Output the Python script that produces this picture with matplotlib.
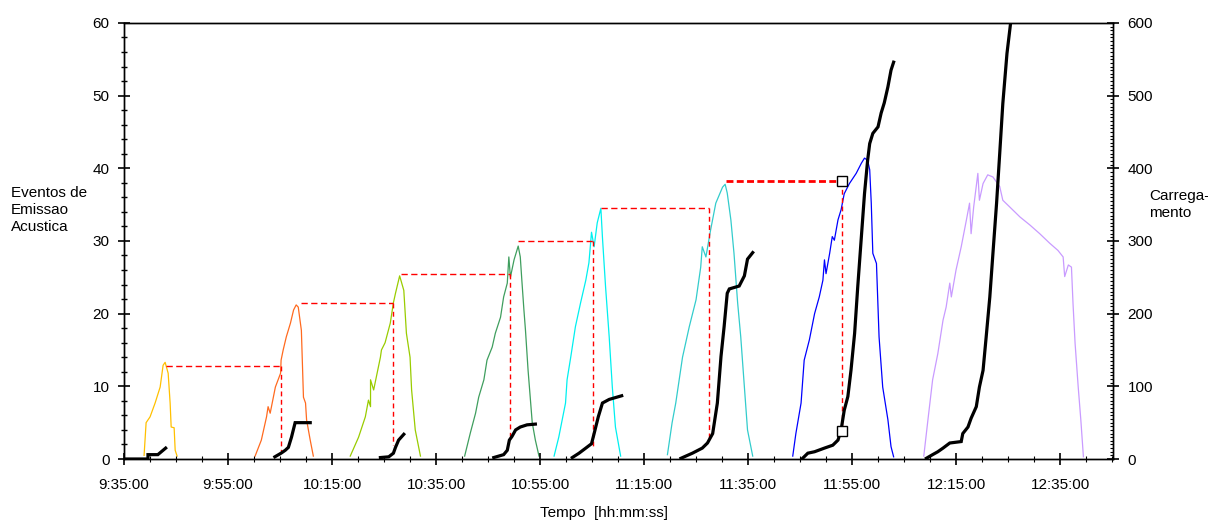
import numpy as np
import pandas as pd
import matplotlib
matplotlib.use("Agg")
import matplotlib.pyplot as plt
import matplotlib.dates as mdates
from matplotlib.ticker import MultipleLocator, FuncFormatter

plt.rcParams["font.family"] = ["Liberation Sans", "DejaVu Sans"]
plt.rcParams["font.size"] = 11

# time in minutes after 9:35:00
START = pd.Timestamp("2000-01-01 09:35:00")

# ── load cycles (Carregamento, right axis) ──────────────────────
load_t1 = [3.85, 4.24, 5.0, 5.97, 6.94, 7.51, 7.9, 8.48, 8.86, 9.06, 9.63, 9.83, 10.2]
load_v1 = [5, 50, 58, 77, 99, 129, 133, 118, 77, 44, 43, 12, 4]

load_t2 = [25.2, 26.4, 27.4, 27.7, 28.1, 29.1, 30.1, 30.2, 30.6, 31.2, 32.0, 32.6, 33.1,
           33.5, 34.1, 34.5, 34.9, 35.1, 35.8, 36.4]
load_v2 = [4, 26, 58, 72, 63, 99, 118, 136, 150, 168, 187, 205, 212, 209, 177, 85, 77, 54, 26, 4]

load_t3 = [43.5, 45.1, 46.4, 47.0, 47.4, 47.4, 48.0, 49.3, 49.5, 50.2, 51.2, 51.8, 52.2,
           53.0, 53.8, 54.3, 55.0, 55.3, 56.0, 57.0]
load_v3 = [4, 30, 58, 81, 72, 109, 95, 140, 150, 160, 187, 215, 228, 252, 232, 173, 140, 95, 40, 4]

load_t4 = [65.5, 66.6, 67.6, 68.2, 69.2, 69.8, 70.8, 71.4, 72.4, 73.0, 73.7, 74.0, 74.3,
           75.0, 75.8, 76.2, 76.5, 76.9, 77.2, 77.7, 78.2, 78.5, 79.1, 79.8]
load_v4 = [4, 36, 63, 85, 109, 136, 154, 173, 195, 223, 242, 278, 250, 274, 293, 278, 246,
           205, 177, 122, 77, 50, 26, 4]

load_t5 = [82.7, 83.6, 84.9, 85.2, 85.9, 86.8, 87.8, 88.8, 89.4, 89.9, 90.4, 91.0, 91.7,
           92.0, 92.6, 93.3, 93.9, 94.5, 95.5]
load_v5 = [4, 30, 77, 109, 140, 182, 215, 246, 270, 312, 292, 325, 345, 305, 237, 168, 99, 44, 4]

load_t6 = [104.5, 105.4, 106.1, 107.4, 108.7, 110.0, 110.9, 111.2, 111.9, 112.8, 113.8,
           115.1, 115.6, 116.0, 116.7, 117.3, 118.0, 118.6, 119.3, 119.9, 120.9]
load_v6 = [6, 50, 77, 140, 182, 219, 264, 292, 278, 315, 352, 374, 378, 366, 329, 283, 215,
           168, 99, 40, 4]

load_t7 = [128.6, 129.2, 130.2, 130.8, 131.8, 132.8, 133.7, 134.4, 134.7, 135.0, 135.7,
           136.2, 136.6, 137.3, 137.9, 138.5, 139.5, 140.8, 141.8, 142.4, 143.0, 143.4,
           143.7, 144.0, 144.7, 145.2, 145.9, 146.9, 147.5, 148.0]
load_v7 = [4, 35, 77, 136, 164, 200, 223, 246, 274, 255, 283, 306, 301, 329, 343, 365, 379,
           393, 407, 414, 411, 398, 352, 283, 269, 168, 99, 54, 17, 3]

load_t8 = [153.8, 154.6, 155.5, 156.5, 157.5, 158.1, 158.8, 159.1, 160.0, 161.0, 162.0,
           162.6, 162.9, 163.4, 164.2, 164.5, 165.2, 166.1, 167.1, 168.4, 169.0, 170.3,
           172.3, 174.2, 176.1, 178.0, 179.6, 180.6, 180.9, 181.6, 182.2, 182.5, 182.9,
           183.5, 184.0, 184.5]
load_v8 = [4, 54, 109, 145, 191, 209, 242, 223, 260, 292, 329, 352, 310, 347, 393, 356, 379,
           391, 388, 375, 356, 347, 333, 322, 310, 297, 287, 278, 251, 267, 264, 214, 159,
           99, 54, 3]

load_colors = ["#FFC000", "#FF6A1F", "#99CC00", "#3F9E5E",
               "#00F0F0", "#33CCCC", "#0000FF", "#C99BFF"]

# ── cumulative acoustic emission events (left axis) ─────────────
ae_t1 = [0, 4.6, 4.6, 6.5, 7.0, 7.5, 8.0]
ae_v1 = [0, 0, 0.6, 0.6, 0.9, 1.2, 1.5]

ae_t2 = [29.0, 30.2, 31.0, 31.6, 32.2, 32.9, 35.8]
ae_v2 = [0.3, 0.8, 1.2, 1.6, 3.0, 5.0, 5.0]

ae_t3 = [49.3, 50.9, 51.8, 52.2, 52.8, 53.3, 53.8]
ae_v3 = [0.2, 0.3, 0.8, 1.6, 2.6, 3.0, 3.4]

ae_t4 = [71.1, 73.0, 73.7, 74.1, 74.6, 75.3, 76.2, 77.5, 79.1]
ae_v4 = [0.2, 0.6, 1.2, 2.6, 3.1, 4.0, 4.4, 4.7, 4.8]

ae_t5 = [86.2, 87.5, 88.8, 89.9, 90.4, 91.2, 92.0, 93.3, 95.7]
ae_v5 = [0.2, 0.8, 1.5, 2.1, 3.5, 5.8, 7.7, 8.2, 8.7]

ae_t6 = [107.1, 109.3, 111.2, 112.2, 113.2, 114.1, 114.8, 115.4, 116.0, 116.4, 118.3,
         119.3, 119.9, 120.9]
ae_v6 = [0.1, 0.8, 1.5, 2.2, 3.5, 7.7, 14.1, 18.2, 22.8, 23.4, 23.8, 25.2, 27.5, 28.4]

ae_t7 = [130.5, 131.5, 132.8, 134.7, 136.3, 137.3, 137.9, 138.5, 139.2, 139.8, 140.5,
         141.1, 141.8, 142.4, 143.0, 143.4, 144.0, 145.0, 145.6, 146.2, 146.9, 147.5, 148.0]
ae_v7 = [0.1, 0.8, 1.0, 1.5, 1.9, 2.6, 4.0, 6.7, 8.6, 12.2, 17.3, 23.7, 30.6, 36.5, 41.1,
         43.4, 44.8, 45.7, 47.6, 49.0, 51.2, 53.5, 54.6]

ae_t8 = [154.3, 155.5, 156.5, 157.5, 158.8, 161.0, 161.3, 162.3, 162.9, 163.9, 164.5,
         165.2, 165.8, 166.5, 167.1, 167.8, 168.4, 169.0, 169.8, 170.5, 170.7]
ae_v8 = [0.1, 0.6, 1.0, 1.5, 2.2, 2.4, 3.5, 4.4, 5.6, 7.2, 9.9, 12.2, 16.8, 22.3, 28.3,
         35.2, 42.0, 48.9, 55.8, 60.0, 61.5]

# ── Felicity lines: previous peak load → onset of emission ─────
fel_start = [8.1, 34.0, 53.2, 75.7, 91.7, 115.7]
fel_end = [30.25, 51.7, 74.2, 90.1, 112.5, 138.0]
fel_level = [128, 214, 254, 300, 346, 382]
fel_bottom = [11, 19, 31, 18, 28, 39]

# marked points on the last cycle (upper: load, lower: events)
mark_t = 138.0
mark_load = 382
mark_ae = 3.9


def to_time(minutes):
    return START + pd.to_timedelta(np.asarray(minutes, dtype=float), unit="min")


loads = [(load_t1, load_v1), (load_t2, load_v2), (load_t3, load_v3), (load_t4, load_v4),
         (load_t5, load_v5), (load_t6, load_v6), (load_t7, load_v7), (load_t8, load_v8)]
events = [(ae_t1, ae_v1), (ae_t2, ae_v2), (ae_t3, ae_v3), (ae_t4, ae_v4),
          (ae_t5, ae_v5), (ae_t6, ae_v6), (ae_t7, ae_v7), (ae_t8, ae_v8)]

fig = plt.figure(figsize=(12.08, 5.21), dpi=100)
ax = fig.add_axes([0.1027, 0.119, 0.8187, 0.837])
ax2 = ax.twinx()
ax.set_zorder(ax2.get_zorder() + 1)
ax.patch.set_visible(False)

for (t, v), c in zip(loads, load_colors):
    ax2.plot(to_time(t), v, color=c, lw=0.9)

for i in range(len(fel_start)):
    last = i == len(fel_start) - 1
    ax2.plot(to_time([fel_start[i], fel_end[i]]), [fel_level[i], fel_level[i]],
             color="red", lw=2.0 if last else 1.0,
             dashes=(2.5, 1.2) if last else (4.5, 2.5))
    ax2.plot(to_time([fel_end[i], fel_end[i]]), [fel_level[i], fel_bottom[i]],
             color="red", lw=1.0, dashes=(3.5, 2.5))

for t, v in events:
    ax.plot(to_time(t), v, color="black", lw=2.3, solid_joinstyle="miter")

ax2.plot(to_time([mark_t]), [mark_load], marker="s", ms=7, mfc="white", mec="black",
         mew=1.0, ls="none")
ax.plot(to_time([mark_t]), [mark_ae], marker="s", ms=7, mfc="white", mec="black",
        mew=1.0, ls="none", zorder=5)

ax.set_xlim(to_time([0])[0], to_time([190.2])[0])
ax.set_ylim(0, 60)
ax2.set_ylim(0, 600)

ax.xaxis.set_major_locator(mdates.MinuteLocator(byminute=[15, 35, 55]))
ax.xaxis.set_minor_locator(mdates.MinuteLocator(byminute=range(0, 60, 5)))
ax.xaxis.set_major_formatter(
    FuncFormatter(lambda x, p: mdates.num2date(x).strftime("%H:%M:%S").lstrip("0")))

ax.yaxis.set_major_locator(MultipleLocator(10))
ax.yaxis.set_minor_locator(MultipleLocator(2))
ax2.yaxis.set_major_locator(MultipleLocator(100))
ax2.yaxis.set_minor_locator(MultipleLocator(5))

ax.tick_params(axis="x", which="major", direction="inout", length=9, width=1.2, pad=9)
ax.tick_params(axis="x", which="minor", direction="inout", length=5, width=0.8)
ax.tick_params(axis="y", which="major", direction="inout", length=9, width=1.2, pad=6)
ax.tick_params(axis="y", which="minor", direction="inout", length=4, width=1.0)
ax2.tick_params(axis="y", which="major", direction="inout", length=9, width=1.2, pad=6)
ax2.tick_params(axis="y", which="minor", direction="in", length=2.5, width=0.8)

for a in (ax, ax2):
    for s in a.spines.values():
        s.set_linewidth(1.0)

fig.text(0.009, 0.597, "Eventos de\nEmissao\nAcustica", ha="left", va="center",
         fontsize=11, linespacing=1.3)
fig.text(0.951, 0.607, "Carrega-\nmento", ha="left", va="center",
         fontsize=11, linespacing=1.3)
fig.text(0.5, 0.016, "Tempo  [hh:mm:ss]", ha="center", va="center", fontsize=11)

fig.savefig("out.png", dpi=100)
